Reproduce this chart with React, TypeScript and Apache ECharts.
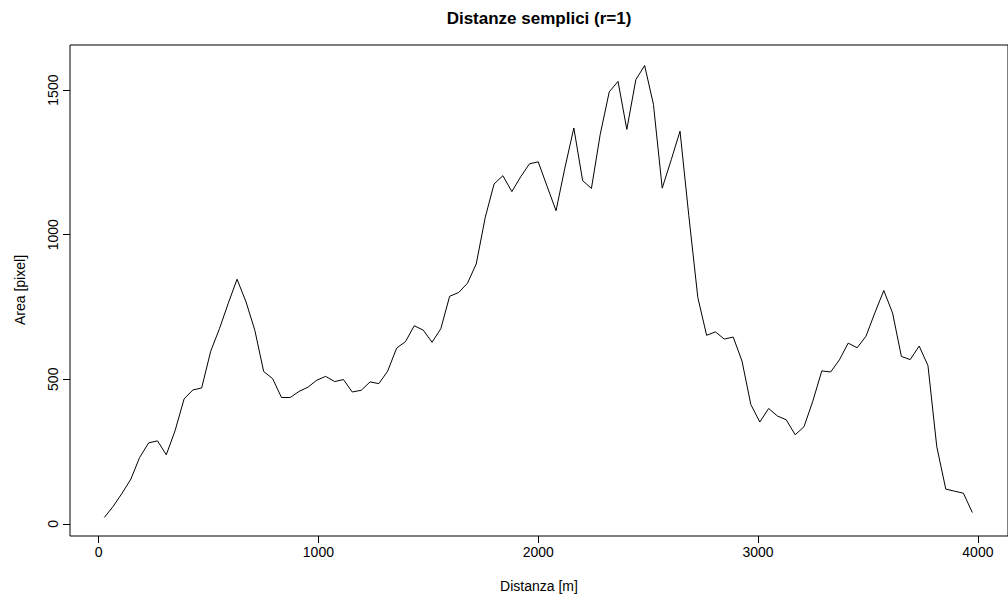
import React, { useEffect, useRef } from "react";
import * as echarts from "echarts";

const distances: number[] = [
  26, 66, 107, 147, 187, 228, 268, 308, 348, 389, 429, 469, 510, 550, 590, 630, 671, 711, 751, 792,
  832, 872, 912, 953, 993, 1033, 1074, 1114, 1154, 1195, 1235, 1275, 1315, 1356, 1396, 1436, 1477, 1517, 1557, 1597,
  1638, 1678, 1718, 1759, 1799, 1839, 1880, 1920, 1960, 2000, 2041, 2081, 2121, 2162, 2202, 2242, 2282, 2323, 2363, 2403,
  2444, 2484, 2524, 2564, 2605, 2645, 2685, 2726, 2766, 2806, 2846, 2887, 2927, 2967, 3008, 3048, 3088, 3128, 3169, 3209,
  3249, 3290, 3330, 3370, 3410, 3451, 3491, 3531, 3572, 3612, 3652, 3692, 3733, 3773, 3813, 3854, 3894, 3934, 3975,
];

const areas: number[] = [
  22, 60, 106, 155, 230, 280, 287, 239, 322, 432, 463, 470, 597, 675, 763, 846, 767, 669, 527, 502,
  437, 437, 458, 473, 497, 510, 492, 499, 456, 462, 491, 485, 528, 608, 630, 685, 670, 628, 675, 787,
  800, 832, 899, 1060, 1175, 1204, 1149, 1200, 1245, 1252, 1166, 1083, 1230, 1369, 1187, 1160, 1347, 1494, 1530, 1364,
  1536, 1585, 1451, 1161, 1259, 1358, 1066, 783, 652, 664, 639, 646, 563, 413, 352, 399, 373, 360, 308, 336,
  424, 529, 525, 567, 625, 609, 649, 729, 807, 729, 579, 568, 615, 547, 267, 120, 113, 106, 39,
];

const xTicks: number[] = [0, 1000, 2000, 3000, 4000];
const yTicks: number[] = [0, 500, 1000, 1500];

const titleText = "Distanze semplici (r=1)";
const xName = "Distanza [m]";
const yName = "Area [pixel]";

export default function App() {
  const ref = useRef<HTMLDivElement>(null);
  useEffect(() => {
    if (!ref.current) return;
    const chart = echarts.init(ref.current, undefined, { renderer: "svg" });
    const font = "'Liberation Sans', Arial, Helvetica, sans-serif";
    const data = distances.map((d, i) => [d, areas[i]]);
    chart.setOption({
      animation: false,
      backgroundColor: "#ffffff",
      textStyle: { fontFamily: font },
      grid: {
        left: 70,
        top: 45,
        width: 940,
        height: 491,
        show: true,
        borderColor: "#000000",
        borderWidth: 1,
        backgroundColor: "transparent",
        containLabel: false,
      },
      xAxis: {
        type: "value",
        min: -130,
        max: 4137,
        position: "bottom",
        axisLine: { show: false, onZero: false },
        splitLine: { show: false },
        axisTick: {
          show: true,
          inside: false,
          length: 7,
          customValues: xTicks,
          lineStyle: { color: "#000000", width: 1 },
        },
        axisLabel: {
          show: true,
          customValues: xTicks,
          formatter: (v: number) => String(v),
          margin: 9,
          color: "#000000",
          fontSize: 14,
          fontFamily: font,
        },
      },
      yAxis: {
        type: "value",
        min: -42,
        max: 1656,
        position: "left",
        axisLine: { show: false, onZero: false },
        splitLine: { show: false },
        axisTick: {
          show: true,
          inside: false,
          length: 7,
          customValues: yTicks,
          lineStyle: { color: "#000000", width: 1 },
        },
        axisLabel: {
          show: true,
          customValues: yTicks,
          formatter: (v: number) => String(v),
          rotate: 90,
          margin: 10,
          color: "#000000",
          fontSize: 14,
          fontFamily: font,
        },
      },
      graphic: [
        {
          type: "text",
          x: 539,
          y: 18,
          style: {
            text: titleText,
            fill: "#000000",
            font: `bold 17px ${font}`,
            textAlign: "center",
            textVerticalAlign: "middle",
          },
        },
        {
          type: "text",
          x: 539,
          y: 586,
          style: {
            text: xName,
            fill: "#000000",
            font: `14px ${font}`,
            textAlign: "center",
            textVerticalAlign: "middle",
          },
        },
        {
          type: "text",
          x: 20,
          y: 290,
          rotation: Math.PI / 2,
          style: {
            text: yName,
            fill: "#000000",
            font: `14px ${font}`,
            textAlign: "center",
            textVerticalAlign: "middle",
          },
        },
      ],
      series: [
        {
          type: "line",
          data,
          showSymbol: false,
          symbol: "none",
          lineStyle: { color: "#000000", width: 1 },
          clip: true,
        },
      ],
    });
    return () => chart.dispose();
  }, []);
  return (
    <div
      ref={ref}
      style={{ position: "absolute", left: 0, top: 0, width: 1008, height: 600 }}
    />
  );
}
